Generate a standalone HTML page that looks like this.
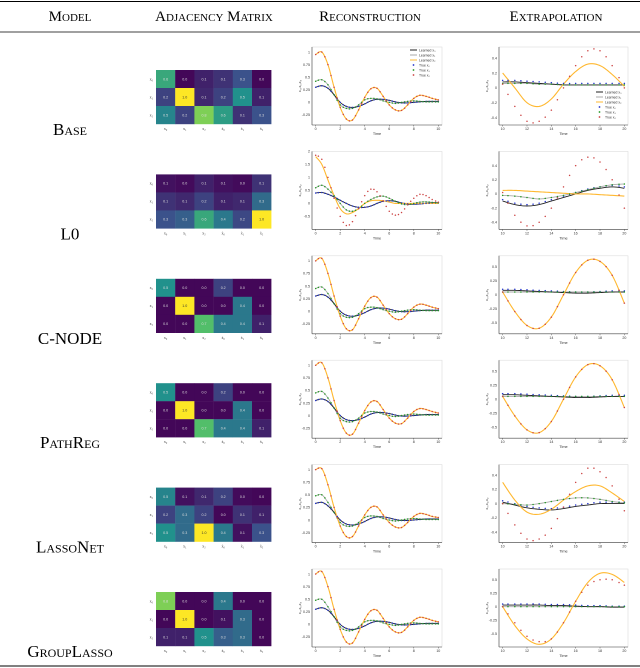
<!DOCTYPE html>
<html><head><meta charset="utf-8"><style>
body{margin:0;background:#fff;}
svg{display:block;font-family:"Liberation Serif",serif;}
.sc{font-variant:small-caps;}
</style></head><body>
<svg id="fig" width="640" height="668" viewBox="0 0 640 668">
<line x1="0" y1="1.5" x2="640" y2="1.5" stroke="#000" stroke-width="1"/>
<line x1="0" y1="32" x2="640" y2="32" stroke="#000" stroke-width="0.7"/>
<line x1="0" y1="666" x2="640" y2="666" stroke="#000" stroke-width="1"/>
<text x="70" y="21" font-size="15" text-anchor="middle" class="sc">Model</text>
<text x="214" y="21" font-size="15" text-anchor="middle" class="sc">Adjacency Matrix</text>
<text x="370" y="21" font-size="15" text-anchor="middle" class="sc">Reconstruction</text>
<text x="556" y="21" font-size="15" text-anchor="middle" class="sc">Extrapolation</text>
</svg>
<script>
const models=["Base","L0","C-NODE","PathReg","LassoNet","GroupLasso"];
const heat=[
[[0.6,0.02,0.1,0.15,0.25,0.02],[0.2,1,0.12,0.2,0.5,0.1],[0.45,0.2,0.8,0.55,0.15,0.25]],
[[0.05,0.03,0.1,0.05,0.03,0.15],[0.15,0.12,0.2,0.1,0.12,0.35],[0.25,0.3,0.6,0.4,0.22,1]],
[[0.5,0.02,0.02,0.2,0.02,0.02],[0.02,1,0.02,0.02,0.4,0.02],[0.02,0.02,0.7,0.4,0.4,0.1]],
[[0.5,0.02,0.02,0.2,0.02,0.02],[0.02,1,0.02,0.02,0.4,0.02],[0.02,0.02,0.7,0.4,0.4,0.1]],
[[0.45,0.05,0.12,0.2,0.03,0.02],[0.2,0.35,0.2,0.02,0.15,0.1],[0.5,0.35,1,0.4,0.05,0.25]],
[[0.8,0.02,0.02,0.4,0.02,0.02],[0.02,1,0.02,0.05,0.35,0.02],[0.1,0.1,0.5,0.3,0.35,0.02]]];
const reconTime=[0,0.5,1,1.5,2,2.5,3,3.5,4,4.5,5,5.5,6,6.5,7,7.5,8,8.5,9,9.5,10];
const rOrange=[
[0.95,1.0,0.75,0.3,-0.1,-0.33,-0.35,-0.15,0.1,0.27,0.28,0.12,-0.05,-0.15,-0.16,-0.05,0.08,0.14,0.12,0.08,0.05],
[1.8,1.5,0.9,0.3,-0.2,-0.4,-0.35,-0.2,0.0,0.1,0.12,0.1,0.05,0.0,0.0,0.0,0.0,0.0,0.0,0.0,0.0],
[1.0,1.05,0.75,0.3,-0.1,-0.35,-0.37,-0.15,0.1,0.27,0.28,0.12,-0.05,-0.15,-0.16,-0.05,0.08,0.14,0.12,0.08,0.05],
[1.0,1.05,0.75,0.3,-0.1,-0.35,-0.37,-0.15,0.1,0.27,0.28,0.12,-0.05,-0.15,-0.16,-0.05,0.08,0.14,0.12,0.08,0.05],
[1.0,1.02,0.7,0.25,-0.12,-0.33,-0.33,-0.12,0.1,0.25,0.26,0.1,-0.05,-0.14,-0.15,-0.05,0.07,0.13,0.11,0.07,0.05],
[1.0,1.05,0.75,0.3,-0.1,-0.35,-0.37,-0.15,0.1,0.27,0.28,0.12,-0.05,-0.15,-0.16,-0.05,0.08,0.14,0.12,0.08,0.05]];
const rRed=[
[0.95,1.0,0.75,0.3,-0.1,-0.33,-0.35,-0.15,0.1,0.27,0.28,0.12,-0.05,-0.15,-0.16,-0.05,0.08,0.14,0.12,0.08,0.05],
[1.85,1.7,1.0,0.2,-0.5,-0.85,-0.7,-0.2,0.3,0.55,0.45,0.1,-0.3,-0.45,-0.35,-0.05,0.2,0.35,0.3,0.15,0.05],
[1.0,1.05,0.75,0.3,-0.1,-0.35,-0.37,-0.15,0.1,0.27,0.28,0.12,-0.05,-0.15,-0.16,-0.05,0.08,0.14,0.12,0.08,0.05],
[1.0,1.05,0.75,0.3,-0.1,-0.35,-0.37,-0.15,0.1,0.27,0.28,0.12,-0.05,-0.15,-0.16,-0.05,0.08,0.14,0.12,0.08,0.05],
[1.0,1.02,0.7,0.25,-0.12,-0.33,-0.33,-0.12,0.1,0.25,0.26,0.1,-0.05,-0.14,-0.15,-0.05,0.07,0.13,0.11,0.07,0.05],
[1.0,1.05,0.75,0.3,-0.1,-0.35,-0.37,-0.15,0.1,0.27,0.28,0.12,-0.05,-0.15,-0.16,-0.05,0.08,0.14,0.12,0.08,0.05]];
const rBlack=[
[0.3,0.33,0.28,0.15,0.0,-0.08,-0.1,-0.08,-0.03,0.03,0.06,0.06,0.04,0.01,-0.01,-0.01,0.0,0.01,0.02,0.02,0.02],
[0.4,0.42,0.35,0.25,0.12,0.0,-0.1,-0.15,-0.15,-0.1,0.0,0.08,0.1,0.08,0.02,-0.02,-0.03,-0.02,0.0,0.02,0.02],
[0.3,0.33,0.28,0.15,0.0,-0.08,-0.1,-0.08,-0.03,0.03,0.06,0.06,0.04,0.01,-0.01,-0.01,0.0,0.01,0.02,0.02,0.02],
[0.3,0.33,0.28,0.15,0.0,-0.08,-0.1,-0.08,-0.03,0.03,0.06,0.06,0.04,0.01,-0.01,-0.01,0.0,0.01,0.02,0.02,0.02],
[0.33,0.35,0.28,0.15,0.0,-0.08,-0.1,-0.08,-0.03,0.03,0.06,0.06,0.04,0.01,-0.01,-0.01,0.0,0.01,0.02,0.02,0.02],
[0.3,0.33,0.28,0.15,0.0,-0.08,-0.1,-0.08,-0.03,0.03,0.06,0.06,0.04,0.01,-0.01,-0.01,0.0,0.01,0.02,0.02,0.02]];
const rGray=[
[0.42,0.45,0.35,0.15,-0.05,-0.12,-0.12,-0.05,0.05,0.08,0.07,0.03,0.0,-0.02,0.0,0.02,0.03,0.02,0.01,0.01,0.01],
[0.6,0.7,0.55,0.3,0.0,-0.25,-0.3,-0.2,0.0,0.15,0.25,0.28,0.2,0.08,-0.02,-0.05,0.0,0.05,0.06,0.04,0.02],
[0.45,0.48,0.35,0.15,-0.05,-0.12,-0.12,-0.05,0.05,0.08,0.07,0.03,0.0,-0.02,0.0,0.02,0.03,0.02,0.01,0.01,0.01],
[0.45,0.48,0.35,0.15,-0.05,-0.12,-0.12,-0.05,0.05,0.08,0.07,0.03,0.0,-0.02,0.0,0.02,0.03,0.02,0.01,0.01,0.01],
[0.48,0.5,0.35,0.15,-0.05,-0.12,-0.12,-0.05,0.05,0.08,0.07,0.03,0.0,-0.02,0.0,0.02,0.03,0.02,0.01,0.01,0.01],
[0.48,0.5,0.35,0.15,-0.05,-0.12,-0.12,-0.05,0.05,0.08,0.07,0.03,0.0,-0.02,0.0,0.02,0.03,0.02,0.01,0.01,0.01]];
const rDomain=[[-0.45,1.1],[-1.0,2.0],[-0.45,1.1],[-0.45,1.1],[-0.45,1.1],[-0.45,1.1]];
const rTicks=[[-0.25,0,0.25,0.5,0.75,1],[-0.5,0,0.5,1,1.5,2],[-0.25,0,0.25,0.5,0.75,1],[-0.25,0,0.25,0.5,0.75,1],[-0.25,0,0.25,0.5,0.75,1],[-0.25,0,0.25,0.5,0.75,1]];
const extTime=[10,11,12,13,14,15,16,17,18,19,20];
const eRed=[
[0.05,-0.25,-0.45,-0.45,-0.3,0.0,0.3,0.5,0.5,0.3,0.0],
[0.02,-0.3,-0.45,-0.4,-0.2,0.1,0.4,0.52,0.45,0.2,-0.2],
[0.05,-0.3,-0.55,-0.6,-0.4,0.0,0.4,0.62,0.6,0.35,-0.15],
[0.05,-0.3,-0.55,-0.6,-0.4,0.0,0.4,0.62,0.6,0.35,-0.15],
[0.0,-0.3,-0.5,-0.5,-0.35,-0.05,0.3,0.5,0.45,0.25,-0.1],
[0.0,-0.3,-0.55,-0.65,-0.6,-0.3,0.1,0.4,0.5,0.5,0.4]];
const eOrange=[
[0.2,0.0,-0.2,-0.25,-0.15,0.05,0.22,0.32,0.3,0.18,0.02],
[0.05,0.05,0.04,0.03,0.02,0.01,0.0,0.0,-0.01,-0.02,-0.03],
[0.05,-0.3,-0.55,-0.6,-0.4,0.0,0.4,0.62,0.6,0.35,-0.15],
[0.05,-0.3,-0.55,-0.6,-0.4,0.0,0.4,0.62,0.6,0.35,-0.15],
[0.3,0.05,-0.12,-0.15,-0.08,0.05,0.17,0.25,0.25,0.15,0.03],
[0.0,-0.35,-0.6,-0.7,-0.6,-0.3,0.1,0.45,0.62,0.6,0.45]];
const eBlack=[
[0.08,0.08,0.07,0.06,0.05,0.04,0.04,0.04,0.04,0.04,0.04],
[-0.1,-0.15,-0.17,-0.15,-0.1,-0.05,0.0,0.05,0.08,0.1,0.08],
[0.08,0.08,0.07,0.06,0.05,0.04,0.03,0.03,0.04,0.05,0.05],
[0.08,0.08,0.07,0.06,0.05,0.04,0.03,0.03,0.04,0.05,0.05],
[0.02,-0.02,-0.06,-0.08,-0.09,-0.07,-0.04,-0.02,0.0,0.0,0.0],
[0.03,0.03,0.03,0.03,0.02,0.02,0.01,0.0,0.0,-0.01,-0.01]];
const eGray=[
[0.06,0.06,0.06,0.05,0.05,0.04,0.04,0.04,0.04,0.04,0.04],
[-0.02,-0.03,-0.05,-0.07,-0.05,-0.02,0.02,0.06,0.1,0.13,0.14],
[0.05,0.05,0.05,0.05,0.05,0.05,0.05,0.05,0.05,0.05,0.05],
[0.05,0.05,0.05,0.05,0.05,0.05,0.05,0.05,0.05,0.05,0.05],
[0.0,-0.01,-0.02,0.0,0.03,0.06,0.08,0.08,0.06,0.03,0.01],
[0.0,0.0,0.0,0.0,0.0,0.0,0.0,0.0,0.0,0.0,0.0]];
const eDomain=[[-0.5,0.55],[-0.5,0.6],[-0.7,0.7],[-0.7,0.7],[-0.55,0.55],[-0.75,0.7]];
const eTicks=[[-0.4,-0.2,0,0.2,0.4],[-0.4,-0.2,0,0.2,0.4],[-0.5,-0.25,0,0.25,0.5],[-0.5,-0.25,0,0.25,0.5],[-0.4,-0.2,0,0.2,0.4],[-0.5,-0.25,0,0.25,0.5]];
const xLabels=["x\u2080","x\u2081","x\u2082","\u1e8b\u2080","\u1e8b\u2081","\u1e8b\u2082"];
const yLabels=["x\u2080","x\u2081","x\u2082"];

const NS="http://www.w3.org/2000/svg";
const fig=document.getElementById('fig');
function mk(tag,attrs,parent){const e=document.createElementNS(NS,tag);for(const k in attrs)e.setAttribute(k,attrs[k]);(parent||fig).appendChild(e);return e;}
const vir=[[68,1,84],[59,82,139],[33,145,140],[94,201,98],[253,231,37]];
function viridis(v){v=Math.max(0,Math.min(1,v))*4;const i=Math.min(3,Math.floor(v)),f=v-i;const a=vir[i],b=vir[i+1];return`rgb(${a.map((c,k)=>Math.round(c+(b[k]-c)*f)).join(',')})`;}
const pitch=104.4;
// Catmull-Rom sampling of screen points
function smooth(pts,steps){
  const out=[];
  for(let i=0;i<pts.length-1;i++){
    const p0=pts[Math.max(0,i-1)],p1=pts[i],p2=pts[i+1],p3=pts[Math.min(pts.length-1,i+2)];
    for(let s=0;s<steps;s++){const t=s/steps,t2=t*t,t3=t2*t;
      const f=(a,b,c,d)=>0.5*((2*b)+(-a+c)*t+(2*a-5*b+4*c-d)*t2+(-a+3*b-3*c+d)*t3);
      out.push([f(p0[0],p1[0],p2[0],p3[0]),f(p0[1],p1[1],p2[1],p3[1])]);}
  }
  out.push(pts[pts.length-1]);return out;
}

function chart(g,x0,y0,w,h,xs,xDom,yDom,yt,series,legend,xticks,dotSteps){
  const sx=t=>x0+(t-xDom[0])/(xDom[1]-xDom[0])*w;
  const sy=v=>y0+h-(v-yDom[0])/(yDom[1]-yDom[0])*h;
  const fr=mk('rect',{x:x0,y:y0,width:w,height:h,fill:'#fff',stroke:'#ddd','stroke-width':0.6},g);
  
  
  mk('line',{x1:x0,y1:y0,x2:x0,y2:y0+h,stroke:'#444','stroke-width':0.6},g);
  mk('line',{x1:x0,y1:y0+h,x2:x0+w,y2:y0+h,stroke:'#444','stroke-width':0.6},g);
  yt.forEach(v=>{const t=mk('text',{x:x0-2,y:sy(v)+1.3,'font-size':3.6,'text-anchor':'end',fill:'#333','font-family':'Liberation Sans'},g);t.textContent=v;
    });
  xticks.forEach(v=>{mk('line',{x1:sx(v),y1:y0+h,x2:sx(v),y2:y0+h+1.5,stroke:'#333','stroke-width':0.4},g);
    const t=mk('text',{x:sx(v),y:y0+h+5,'font-size':3.6,'text-anchor':'middle',fill:'#333','font-family':'Liberation Sans'},g);t.textContent=v;
    });
  const xl=mk('text',{x:x0+w/2,y:y0+h+10,'font-size':3.8,'text-anchor':'middle',fill:'#333','font-family':'Liberation Sans'},g);xl.textContent='Time';
  
  const yl=mk('text',{x:x0-11,y:y0+h/2,'font-size':3.8,'text-anchor':'middle',fill:'#333','font-family':'Liberation Sans',transform:`rotate(-90 ${x0-11} ${y0+h/2})`},g);yl.textContent='x\u2080,x\u2081,x\u2082';
  
  series.forEach(s=>{
    const pts=s.vals.map((v,i)=>[sx(xs[i]),sy(v)]);
    if(s.type==='line'){
      const sp=smooth(pts,8);
      const p=mk('path',{d:'M'+sp.map(q=>q[0].toFixed(2)+','+q[1].toFixed(2)).join('L'),fill:'none',stroke:s.color,'stroke-width':s.w||0.9,'stroke-linejoin':'round'},g);
      
    }else{
      smooth(pts,dotSteps).forEach(q=>{const c=mk('circle',{cx:q[0],cy:q[1],r:0.75,fill:s.color},g);
        });
    }
  });
  if(legend){
    const lx=legend[0],ly=legend[1];
    const names=['Learned x\u2080','Learned x\u2081','Learned x\u2082','True x\u2080','True x\u2081','True x\u2082'];
    const cols=['#222','#aaa','#ffb830','#2233cc','#229922','#cc4444'];
    names.forEach((n,i)=>{
      if(i<3){const l=mk('line',{x1:lx,y1:ly+i*5,x2:lx+7,y2:ly+i*5,stroke:cols[i],'stroke-width':1},g);}
      else{const c=mk('circle',{cx:lx+3.5,cy:ly+i*5,r:0.9,fill:cols[i]},g);}
      const t=mk('text',{x:lx+9,y:ly+i*5+1.3,'font-size':3.4,fill:'#333','font-family':'Liberation Sans'},g);t.textContent=n;
      
    });
  }
}

models.forEach((m,r)=>{
  const dy=r*pitch;
  const g=mk('g',{});
  
  
  const lab=mk('text',{x:70,y:130+dy+5,'font-size':17,'text-anchor':'middle'},g);
  lab.textContent=m;
  if(m!=='C-NODE'&&m!=='L0')lab.setAttribute('class','sc');
  
  
  const hx=156,hy=70+dy,cw=19.2,ch=18;
  heat[r].forEach((row,i)=>row.forEach((v,j)=>{
    const c=mk('rect',{x:hx+j*cw,y:hy+i*ch,width:cw+0.2,height:ch+0.2,fill:viridis(v)},g);
    
    
    const t=mk('text',{x:hx+j*cw+cw/2,y:hy+i*ch+ch/2+1.3,'font-size':3.6,'text-anchor':'middle',fill:v>0.85?'#333':'#ddd','font-family':'Liberation Sans'},g);
    t.textContent=v.toFixed(1);
    
    
  }));
  xLabels.forEach((l,j)=>{const t=mk('text',{x:hx+j*cw+cw/2,y:hy+3*ch+6,'font-size':4,'text-anchor':'middle',fill:'#333'},g);t.textContent=l;
    });
  yLabels.forEach((l,i)=>{const t=mk('text',{x:hx-3,y:hy+i*ch+ch/2+1.3,'font-size':4,'text-anchor':'end',fill:'#333'},g);t.textContent=l;
    });
  chart(g,312,47+dy,130,78,reconTime,[-0.3,10.3],rDomain[r],rTicks[r],[
    {type:'line',vals:rGray[r],color:'#aaa',name:'learned-x1-line'},
    {type:'line',vals:rBlack[r],color:'#222',name:'learned-x0-line'},
    {type:'line',vals:rOrange[r],color:'#ffb830',w:1.1,name:'learned-x2-line'},
    {type:'dot',vals:rBlack[r],color:'#2233cc',name:'true-x0-point'},
    {type:'dot',vals:rGray[r],color:'#229922',name:'true-x1-point'},
    {type:'dot',vals:rRed[r],color:'#cc4444',name:'true-x2-point'}
  ],r===0?[410,50]:null,[0,2,4,6,8,10],2);
  chart(g,499,47+dy,129,78,extTime,[9.7,20.3],eDomain[r],eTicks[r],[
    {type:'line',vals:eGray[r],color:'#aaa',name:'learned-x1-line'},
    {type:'line',vals:eBlack[r],color:'#222',name:'learned-x0-line'},
    {type:'line',vals:eOrange[r],color:'#ffb830',w:1.1,name:'learned-x2-line'},
    {type:'dot',vals:eBlack[r].map(v=>v+0.02),color:'#2233cc',name:'true-x0-point'},
    {type:'dot',vals:eGray[r],color:'#229922',name:'true-x1-point'},
    {type:'dot',vals:eRed[r],color:'#cc4444',name:'true-x2-point'}
  ],r===0?[596,92]:null,[10,12,14,16,18,20],2);
});
</script>
</body></html>
